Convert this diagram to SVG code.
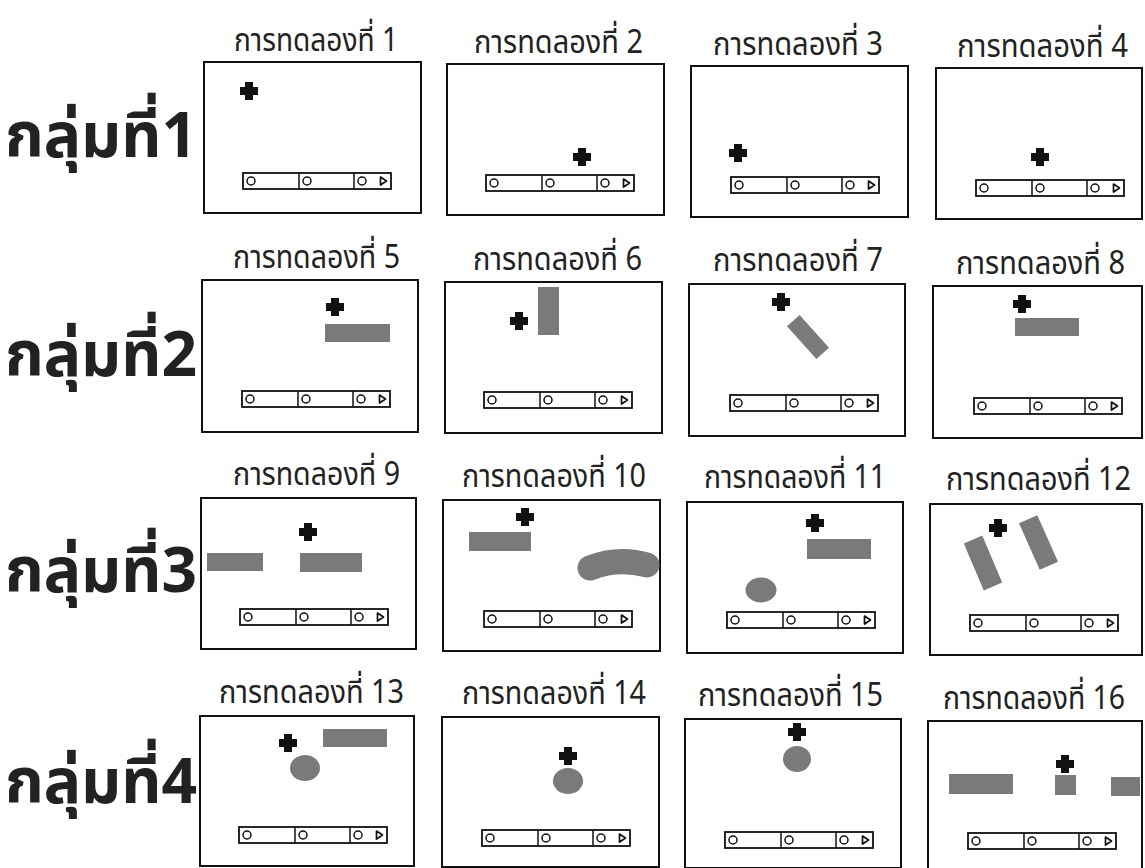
<svg xmlns="http://www.w3.org/2000/svg" xmlns:xlink="http://www.w3.org/1999/xlink" width="1145" height="868" viewBox="0 0 1145 868">
<style>
.panel{fill:none;stroke:#111;stroke-width:2}
.lbl{font-family:"Noto Sans Thai","Loma","Tlwg Typo","Garuda","Kinnari","Noto Sans","DejaVu Sans",sans-serif;font-size:26px;fill:#222}
.grp{font-family:"Noto Sans Thai","Loma","Garuda","Noto Sans","DejaVu Sans",sans-serif;font-size:62px;font-weight:bold;fill:#222}
.shape{fill:#7a7a7a}
</style>
<defs>
<g id="bar">
<rect x="0" y="0" width="148" height="16" fill="#fff" stroke="#111" stroke-width="1.8"/>
<line x1="56" y1="0" x2="56" y2="16" stroke="#111" stroke-width="1.5"/>
<line x1="111" y1="0" x2="111" y2="16" stroke="#111" stroke-width="1.5"/>
<circle cx="8" cy="8" r="4" fill="none" stroke="#111" stroke-width="1.5"/>
<circle cx="64" cy="8" r="4" fill="none" stroke="#111" stroke-width="1.5"/>
<circle cx="119" cy="8" r="4" fill="none" stroke="#111" stroke-width="1.5"/>
<polygon points="137.5,4 143.5,8 137.5,12" fill="none" stroke="#111" stroke-width="1.7" stroke-linejoin="round"/>
</g>
<path id="cross" d="M-4,-9 h8 v5 h5 v8 h-5 v5 h-8 v-5 h-5 v-8 h5 z" fill="#111"/>
</defs>
<rect width="1145" height="868" fill="#fff"/>

<g id="groups">
<text class="grp" x="5" y="157" textLength="192" lengthAdjust="spacingAndGlyphs">กลุ่มที่1</text>
<text class="grp" x="5" y="376" textLength="192" lengthAdjust="spacingAndGlyphs">กลุ่มที่2</text>
<text class="grp" x="5" y="592" textLength="192" lengthAdjust="spacingAndGlyphs">กลุ่มที่3</text>
<text class="grp" x="5" y="803" textLength="192" lengthAdjust="spacingAndGlyphs">กลุ่มที่4</text>
</g>

<g id="trial1">
<text class="lbl" transform="translate(234 51) scale(1 1.23)" textLength="164" lengthAdjust="spacingAndGlyphs">การทดลองที่ 1</text>
<rect class="panel" x="204" y="62" width="217" height="151"/>
<use href="#cross" x="249" y="91"/>
<use href="#bar" x="243" y="173"/>
</g>
<g id="trial2">
<text class="lbl" transform="translate(474 53) scale(1 1.23)" textLength="169" lengthAdjust="spacingAndGlyphs">การทดลองที่ 2</text>
<rect class="panel" x="447" y="64" width="217" height="151"/>
<use href="#cross" x="582" y="157"/>
<use href="#bar" x="486" y="175"/>
</g>
<g id="trial3">
<text class="lbl" transform="translate(713 55) scale(1 1.23)" textLength="170" lengthAdjust="spacingAndGlyphs">การทดลองที่ 3</text>
<rect class="panel" x="691" y="66" width="217" height="151"/>
<use href="#cross" x="738" y="153"/>
<use href="#bar" x="731" y="177"/>
</g>
<g id="trial4">
<text class="lbl" transform="translate(957 57) scale(1 1.23)" textLength="171" lengthAdjust="spacingAndGlyphs">การทดลองที่ 4</text>
<rect class="panel" x="936" y="68" width="206" height="151"/>
<use href="#cross" x="1040" y="157"/>
<use href="#bar" x="976" y="180"/>
</g>

<g id="trial5">
<text class="lbl" transform="translate(233 268) scale(1 1.23)" textLength="167" lengthAdjust="spacingAndGlyphs">การทดลองที่ 5</text>
<rect class="panel" x="202" y="280" width="216" height="152"/>
<use href="#cross" x="335" y="307"/>
<rect class="shape" x="325" y="324" width="65" height="18"/>
<use href="#bar" x="242" y="391"/>
</g>
<g id="trial6">
<text class="lbl" transform="translate(473 270) scale(1 1.23)" textLength="169" lengthAdjust="spacingAndGlyphs">การทดลองที่ 6</text>
<rect class="panel" x="445" y="282" width="217" height="151"/>
<use href="#cross" x="519" y="321"/>
<rect class="shape" x="538" y="287" width="21" height="48"/>
<use href="#bar" x="484" y="392"/>
</g>
<g id="trial7">
<text class="lbl" transform="translate(713 271) scale(1 1.23)" textLength="170" lengthAdjust="spacingAndGlyphs">การทดลองที่ 7</text>
<rect class="panel" x="689" y="284" width="216" height="152"/>
<use href="#cross" x="781" y="302"/>
<rect class="shape" x="-22" y="-8.5" width="44" height="17" transform="translate(808 337) rotate(48)"/>
<use href="#bar" x="730" y="395"/>
</g>
<g id="trial8">
<text class="lbl" transform="translate(956 274) scale(1 1.23)" textLength="169" lengthAdjust="spacingAndGlyphs">การทดลองที่ 8</text>
<rect class="panel" x="933" y="286" width="209" height="152"/>
<use href="#cross" x="1022" y="304"/>
<rect class="shape" x="1015" y="318" width="64" height="18"/>
<use href="#bar" x="974" y="398"/>
</g>

<g id="trial9">
<text class="lbl" transform="translate(233 485) scale(1 1.23)" textLength="167" lengthAdjust="spacingAndGlyphs">การทดลองที่ 9</text>
<rect class="panel" x="201" y="498" width="215" height="151"/>
<use href="#cross" x="308" y="532"/>
<rect class="shape" x="207" y="553" width="56" height="18"/>
<rect class="shape" x="300" y="553" width="62" height="19"/>
<use href="#bar" x="240" y="609"/>
</g>
<g id="trial10">
<text class="lbl" transform="translate(462 487) scale(1 1.23)" textLength="184" lengthAdjust="spacingAndGlyphs">การทดลองที่ 10</text>
<rect class="panel" x="443" y="500" width="217" height="151"/>
<use href="#cross" x="525" y="517"/>
<rect class="shape" x="469" y="532" width="62" height="19"/>
<path d="M590,568 Q618,557 647,565" fill="none" stroke="#7a7a7a" stroke-width="25" stroke-linecap="round"/>
<use href="#bar" x="484" y="611"/>
</g>
<g id="trial11">
<text class="lbl" transform="translate(704 488) scale(1 1.23)" textLength="182" lengthAdjust="spacingAndGlyphs">การทดลองที่ 11</text>
<rect class="panel" x="687" y="502" width="216" height="151"/>
<use href="#cross" x="815" y="523"/>
<rect class="shape" x="807" y="539" width="64" height="20"/>
<ellipse class="shape" cx="761" cy="590" rx="15.5" ry="12.5"/>
<use href="#bar" x="727" y="612"/>
</g>
<g id="trial12">
<text class="lbl" transform="translate(946 490) scale(1 1.23)" textLength="185" lengthAdjust="spacingAndGlyphs">การทดลองที่ 12</text>
<rect class="panel" x="930" y="504" width="212" height="151"/>
<use href="#cross" x="998" y="528"/>
<rect class="shape" x="-10" y="-25.5" width="20" height="51" transform="translate(983 563) rotate(-23)"/>
<rect class="shape" x="-10" y="-25.5" width="20" height="51" transform="translate(1038.5 542.5) rotate(-24)"/>
<use href="#bar" x="970" y="615"/>
</g>

<g id="trial13">
<text class="lbl" transform="translate(219 703) scale(1 1.23)" textLength="185" lengthAdjust="spacingAndGlyphs">การทดลองที่ 13</text>
<rect class="panel" x="200" y="716" width="214" height="150"/>
<use href="#cross" x="288" y="743"/>
<rect class="shape" x="323" y="729" width="64" height="18"/>
<ellipse class="shape" cx="305" cy="768" rx="15" ry="13"/>
<use href="#bar" x="239" y="827"/>
</g>
<g id="trial14">
<text class="lbl" transform="translate(462 704) scale(1 1.23)" textLength="184" lengthAdjust="spacingAndGlyphs">การทดลองที่ 14</text>
<rect class="panel" x="442" y="717" width="217" height="150"/>
<use href="#cross" x="568" y="756"/>
<ellipse class="shape" cx="568" cy="781" rx="15" ry="13"/>
<use href="#bar" x="482" y="830"/>
</g>
<g id="trial15">
<text class="lbl" transform="translate(698 706) scale(1 1.23)" textLength="185" lengthAdjust="spacingAndGlyphs">การทดลองที่ 15</text>
<rect class="panel" x="685" y="719" width="216" height="149"/>
<use href="#cross" x="797" y="732"/>
<ellipse class="shape" cx="797" cy="759" rx="14" ry="13"/>
<use href="#bar" x="725" y="832"/>
</g>
<g id="trial16">
<text class="lbl" transform="translate(943 709) scale(1 1.23)" textLength="182" lengthAdjust="spacingAndGlyphs">การทดลองที่ 16</text>
<rect class="panel" x="928" y="721" width="214" height="149"/>
<use href="#cross" x="1065" y="764"/>
<rect class="shape" x="949" y="774" width="64" height="20"/>
<rect class="shape" x="1055" y="775" width="21" height="20"/>
<rect class="shape" x="1111" y="777" width="29" height="19"/>
<use href="#bar" x="968" y="833"/>
</g>
</svg>
